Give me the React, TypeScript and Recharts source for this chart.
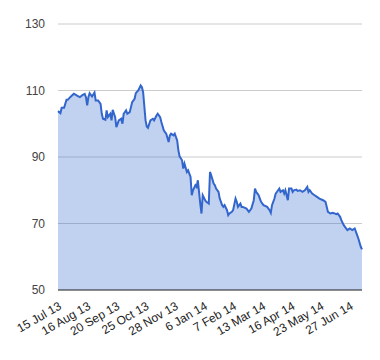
import React from 'react';
import { AreaChart, Area, XAxis, YAxis, CartesianGrid } from 'recharts';

// trading-day index since 15 Jul 13, and closing value
const DAYS = [
  0, 2, 3, 5, 7, 8, 10, 13, 14, 16, 18, 20, 22, 23, 24, 25, 26, 28, 30, 31,
  33, 35, 36, 37, 39, 40, 41, 43, 44, 45, 47, 48, 50, 52, 53, 54, 56, 57, 59, 61,
  63, 64, 66, 68, 69, 70, 72, 73, 74, 76, 78, 79, 81, 82, 84, 85, 87, 88, 89, 91,
  92, 93, 95, 96, 98, 99, 100, 102, 103, 104, 106, 107, 109, 110, 111, 113, 114, 115, 117, 118,
  119, 121, 122, 124, 125, 126, 128, 129, 130, 132, 133, 135, 136, 137, 139, 140, 141, 143, 144, 146,
  147, 148, 150, 151, 152, 155, 157, 159, 161, 162, 163, 165, 166, 167, 169, 172, 174, 175, 176, 178,
  179, 181, 182, 183, 185, 186, 187, 189, 190, 192, 193, 194, 196, 197, 199, 201, 203, 205, 206, 207,
  209, 211, 213, 215, 218, 220, 222, 224, 226, 229, 230, 232, 233, 235, 236, 238, 240, 242, 244, 246,
  247, 249, 250,
];

const PRICES = [
  103.8, 103.2, 104.8, 104.8, 107.2, 107.2, 108, 109, 108.8, 108.4, 108, 108.6, 109, 108, 105.5, 108, 109.2, 108.2, 109.4, 107,
  107, 106, 103, 101.5, 101.2, 104, 102, 103, 101, 104.2, 102, 99, 101, 101.5, 100, 103, 104, 103, 103.5, 106.5,
  107.5, 109.2, 110, 111.5, 111, 109.5, 101, 99.2, 98.8, 101, 101.5, 101, 102.5, 103, 102, 100.5, 98, 97.5, 97, 94.5,
  96.5, 97, 96.5, 97, 95, 92, 90.2, 89, 86.5, 88, 85.5, 86, 84, 78.5, 80, 81.5, 81, 83, 76, 73,
  78.5, 77, 76.5, 76, 85.5, 84.5, 82, 81.5, 80.5, 79.5, 77.5, 75.5, 75, 75.5, 74, 72.5, 73, 73.5, 74, 77.5,
  76.5, 75, 76, 75, 75, 74.5, 73.5, 74.5, 77, 80.5, 79.5, 78.5, 77.5, 76.5, 75.5, 75, 74, 73.2, 75.5, 77.5,
  79, 80, 80.5, 79.5, 80, 79, 80, 77, 80.5, 80.5, 79.5, 80, 80.2, 79.8, 80, 79.5, 80, 81, 79.5, 80,
  79, 78.5, 78, 77.5, 77, 76.5, 73.5, 73, 73.2, 72.8, 73, 72, 71, 69.5, 69, 68, 68.5, 68, 68.5, 66.5,
  65.5, 63, 62.2,
];

const TICK_LABELS = [
  '15 Jul 13', '16 Aug 13', '20 Sep 13', '25 Oct 13', '28 Nov 13', '6 Jan 14',
  '7 Feb 14', '13 Mar 14', '16 Apr 14', '23 May 14', '27 Jun 14',
];
const Y_TICKS = [50, 70, 90, 110, 130];

const TICK_STEP = 24;
const data = DAYS.map((d, i) => ({ day: d, value: PRICES[i] }));
const xTicks = TICK_LABELS.map((_, i) => i * TICK_STEP);

const FONT = "Arial, 'Liberation Sans', sans-serif";

export default function App() {
  return (
    <div style={{ position: 'absolute', left: 0, top: 0, background: '#fff' }}>
      <AreaChart width={380} height={360} data={data} margin={{ top: 24, right: 18, bottom: 0, left: 0 }}>
        <CartesianGrid vertical={false} stroke="#cccccc" />
        <XAxis
          dataKey="day"
          type="number"
          domain={[0, 250]}
          ticks={xTicks}
          tickFormatter={(v: number) => TICK_LABELS[Math.round(v / TICK_STEP)]}
          height={70}
          angle={-30}
          textAnchor="end"
          tickLine={false}
          tickMargin={5}
          axisLine={{ stroke: '#333333' }}
          tick={{ fontSize: 12, fill: '#222222', fontFamily: FONT }}
          interval={0}
        />
        <YAxis
          domain={[50, 130]}
          ticks={Y_TICKS}
          width={58}
          axisLine={false}
          tickLine={false}
          tickMargin={7}
          tick={{ fontSize: 12, fill: '#444444', fontFamily: FONT }}
        />
        <Area
          type="linear"
          dataKey="value"
          stroke="#3366cc"
          strokeWidth={2}
          fill="#3366cc"
          fillOpacity={0.3}
          isAnimationActive={false}
          dot={false}
        />
      </AreaChart>
    </div>
  );
}
